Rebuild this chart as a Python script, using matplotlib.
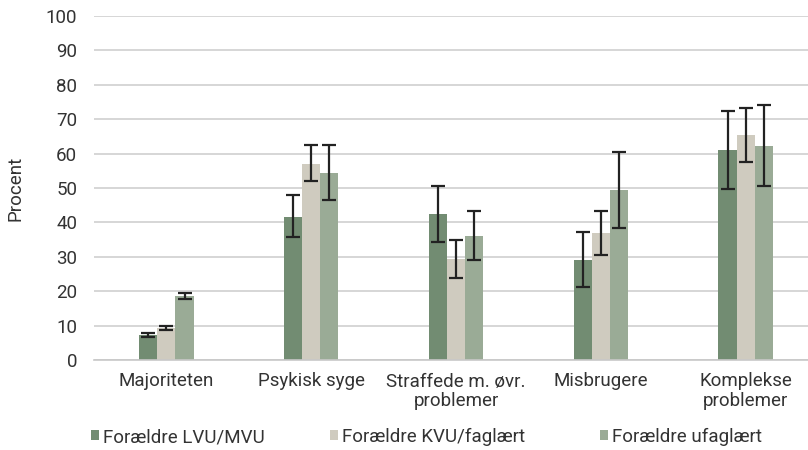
import matplotlib
matplotlib.use("Agg")
import matplotlib.pyplot as plt
import numpy as np
from matplotlib.patches import Patch

plt.rcParams['font.family'] = ['Roboto', 'DejaVu Sans']

categories = ["Majoriteten", "Psykisk syge", "Straffede m. øvr.\nproblemer", "Misbrugere", "Komplekse\nproblemer"]
series_names = ["Forældre LVU/MVU", "Forældre KVU/faglært", "Forældre ufaglært"]
values_lvu = [7.3, 41.7, 42.3, 29.1, 61.0]
values_kvu = [9.4, 57.1, 29.4, 36.9, 65.4]
values_ufag = [18.6, 54.4, 36.1, 49.4, 62.2]
err_low_lvu = [6.7, 35.8, 34.4, 21.3, 49.7]
err_high_lvu = [7.9, 47.9, 50.5, 37.1, 72.3]
err_low_kvu = [8.7, 51.9, 23.8, 30.6, 57.7]
err_high_kvu = [9.9, 62.4, 34.9, 43.4, 73.3]
err_low_ufag = [17.6, 46.4, 29.2, 38.4, 50.6]
err_high_ufag = [19.6, 62.4, 43.3, 60.5, 74.1]
yticks = [0, 10, 20, 30, 40, 50, 60, 70, 80, 90, 100]

colors = ["#728c72", "#cfcbbf", "#9aab96"]
vals = [values_lvu, values_kvu, values_ufag]
lows = [err_low_lvu, err_low_kvu, err_low_ufag]
highs = [err_high_lvu, err_high_kvu, err_high_ufag]

fs = 13.5
fig = plt.figure(figsize=(8.08, 4.5), dpi=100)
ax = fig.add_axes([94/808, 90/450, (818-94)/808, (360-16)/450])

x = np.arange(len(categories))
w = 0.125
for i in range(3):
    v = np.array(vals[i])
    lo = v - np.array(lows[i])
    hi = np.array(highs[i]) - v
    ax.bar(x + (i-1)*w, v, width=w, color=colors[i], zorder=2)
    ax.errorbar(x + (i-1)*w, v, yerr=[lo, hi], fmt='none', ecolor='#222222',
                elinewidth=1.6, capsize=5, capthick=1.6, zorder=3)

ax.set_xlim(-0.5, len(categories)-0.5)
ax.set_ylim(0, 100)
ax.set_yticks(yticks)
ax.set_xticks(x)
ax.set_xticklabels(categories, fontsize=fs, color='#333333', linespacing=1.1)
ax.tick_params(axis='y', labelsize=fs, colors='#333333', length=0, pad=12)
ax.tick_params(axis='x', length=0, pad=9)
ax.yaxis.grid(True, color='#d0d0d0', linewidth=1.2, zorder=0)
ax.set_axisbelow(True)
for s in ['top', 'right', 'left']:
    ax.spines[s].set_visible(False)
ax.spines['bottom'].set_color('#c8c8c8')
ax.spines['bottom'].set_linewidth(1.2)
ax.set_ylabel("Procent", fontsize=fs, color='#333333')
ax.yaxis.set_label_coords((16 - 94)/724, 0.5)
ax.yaxis.label.set_verticalalignment('center')

legend_x = [74, 313, 583]
for c, name, lx in zip(colors, series_names, legend_x):
    fig.legend([Patch(facecolor=c, edgecolor='none')], [name], loc='center left',
               bbox_to_anchor=(lx/808, 13/450), frameon=False, fontsize=fs,
               handlelength=0.45, handleheight=0.45, handletextpad=0.2,
               labelcolor='#333333')

fig.savefig("out.png", dpi=100)
